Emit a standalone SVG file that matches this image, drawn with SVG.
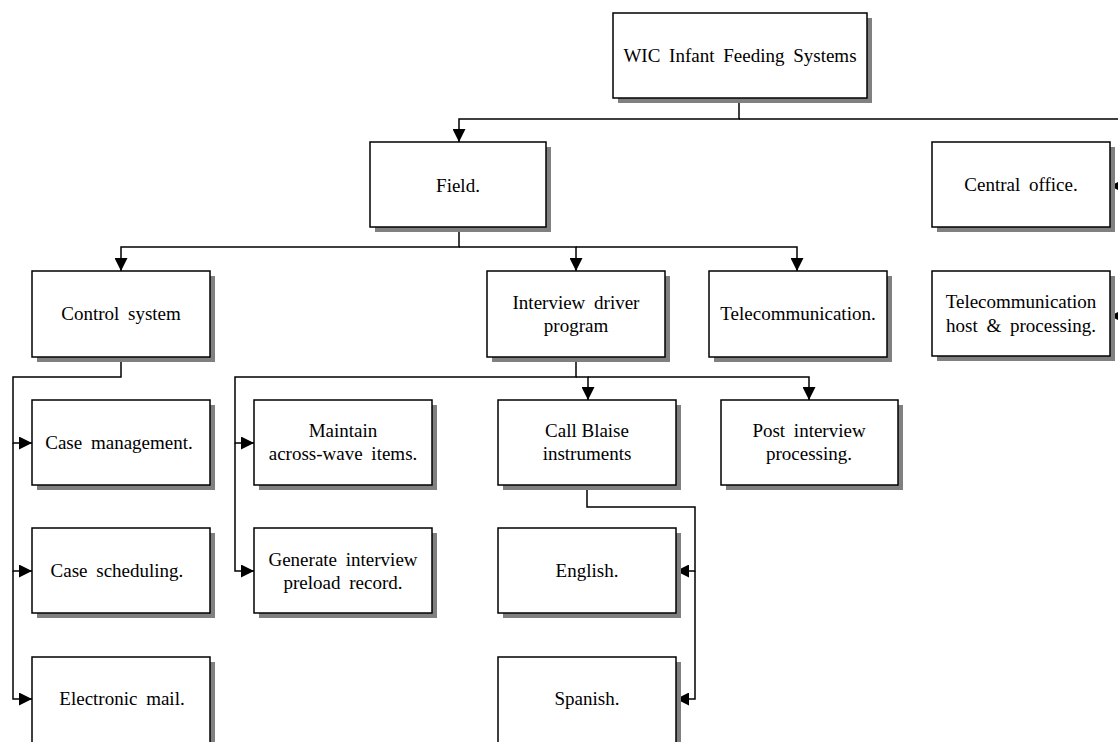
<svg xmlns="http://www.w3.org/2000/svg" width="1118" height="742" viewBox="0 0 1118 742">
<style>
.shadow{fill:#808080}
.box{fill:#fff;stroke:#000;stroke-width:1.5}
.lbl{font-family:"Liberation Serif","Times New Roman",serif;font-size:19px;fill:#000;text-anchor:middle;word-spacing:4px}
.conn{fill:none;stroke:#000;stroke-width:1.5}
</style>
<defs>
<marker id="arr" viewBox="0 0 13 13" refX="13" refY="6.5" markerWidth="13" markerHeight="13" markerUnits="userSpaceOnUse" orient="auto">
<path d="M0,0 L13,6.5 L0,13 z" fill="#000"/>
</marker>
</defs>
<rect width="1118" height="742" fill="#fff"/>
<g id="connectors" class="conn" marker-end="url(#arr)">
<path d="M739,98 V119 H459 V142"/>
<path d="M739,119 H1130 V186 H1110"/>
<path d="M1130,186 V316 H1110"/>
<path d="M459,227 V247 H121 V271"/>
<path d="M459,247 H576 V271"/>
<path d="M576,247 H797 V271"/>
<path d="M121,357 V377 H13 V443 H32"/>
<path d="M13,443 V571 H32"/>
<path d="M13,571 V699 H32"/>
<path d="M576,357 V377 H235 V443 H254"/>
<path d="M235,443 V571 H254"/>
<path d="M576,377 H588 V400"/>
<path d="M588,377 H809 V400"/>
<path d="M587,485 V507 H695 V571 H676"/>
<path d="M695,571 V699 H676"/>
</g>
<g id="root"><rect class="shadow" x="618" y="18" width="254" height="85"/><rect class="box" x="613" y="13" width="254" height="85"/><text class="lbl" x="740" y="62">WIC Infant Feeding Systems</text></g>
<g id="field"><rect class="shadow" x="375" y="147" width="176" height="85"/><rect class="box" x="370" y="142" width="176" height="85"/><text class="lbl" x="458" y="192">Field.</text></g>
<g id="central"><rect class="shadow" x="937" y="147" width="178" height="85"/><rect class="box" x="932" y="142" width="178" height="85"/><text class="lbl" x="1021" y="191">Central office.</text></g>
<g id="control"><rect class="shadow" x="37" y="276" width="178" height="86"/><rect class="box" x="32" y="271" width="178" height="86"/><text class="lbl" x="121" y="320">Control system</text></g>
<g id="interview"><rect class="shadow" x="492" y="276" width="178" height="86"/><rect class="box" x="487" y="271" width="178" height="86"/><text class="lbl" x="576" y="309">Interview driver</text><text class="lbl" x="576" y="332">program</text></g>
<g id="telecom"><rect class="shadow" x="714" y="276" width="178" height="86"/><rect class="box" x="709" y="271" width="178" height="86"/><text class="lbl" x="798" y="320">Telecommunication.</text></g>
<g id="telehost"><rect class="shadow" x="937" y="276" width="178" height="85"/><rect class="box" x="932" y="271" width="178" height="85"/><text class="lbl" x="1021" y="308">Telecommunication</text><text class="lbl" x="1021" y="332">host &amp; processing.</text></g>
<g id="casemgmt"><rect class="shadow" x="37" y="405" width="178" height="85"/><rect class="box" x="32" y="400" width="178" height="85"/><text class="lbl" x="119" y="449">Case management.</text></g>
<g id="maintain"><rect class="shadow" x="259" y="405" width="178" height="85"/><rect class="box" x="254" y="400" width="178" height="85"/><text class="lbl" x="343" y="437">Maintain</text><text class="lbl" x="343" y="460">across-wave  items.</text></g>
<g id="callblaise"><rect class="shadow" x="503" y="405" width="178" height="85"/><rect class="box" x="498" y="400" width="178" height="85"/><text class="lbl" x="587" y="437" style="word-spacing:0">Call Blaise</text><text class="lbl" x="587" y="460">instruments</text></g>
<g id="post"><rect class="shadow" x="726" y="405" width="177" height="85"/><rect class="box" x="721" y="400" width="177" height="85"/><text class="lbl" x="809" y="437">Post interview</text><text class="lbl" x="809" y="460">processing.</text></g>
<g id="casesched"><rect class="shadow" x="37" y="533" width="178" height="85"/><rect class="box" x="32" y="528" width="178" height="85"/><text class="lbl" x="117" y="577">Case scheduling.</text></g>
<g id="generate"><rect class="shadow" x="259" y="533" width="178" height="85"/><rect class="box" x="254" y="528" width="178" height="85"/><text class="lbl" x="343" y="566">Generate interview</text><text class="lbl" x="343" y="589">preload record.</text></g>
<g id="english"><rect class="shadow" x="503" y="533" width="178" height="85"/><rect class="box" x="498" y="528" width="178" height="85"/><text class="lbl" x="587" y="577">English.</text></g>
<g id="email"><rect class="shadow" x="37" y="662" width="178" height="90"/><rect class="box" x="32" y="657" width="178" height="90"/><text class="lbl" x="122" y="705">Electronic mail.</text></g>
<g id="spanish"><rect class="shadow" x="503" y="662" width="178" height="90"/><rect class="box" x="498" y="657" width="178" height="90"/><text class="lbl" x="587" y="705">Spanish.</text></g>
</svg>
